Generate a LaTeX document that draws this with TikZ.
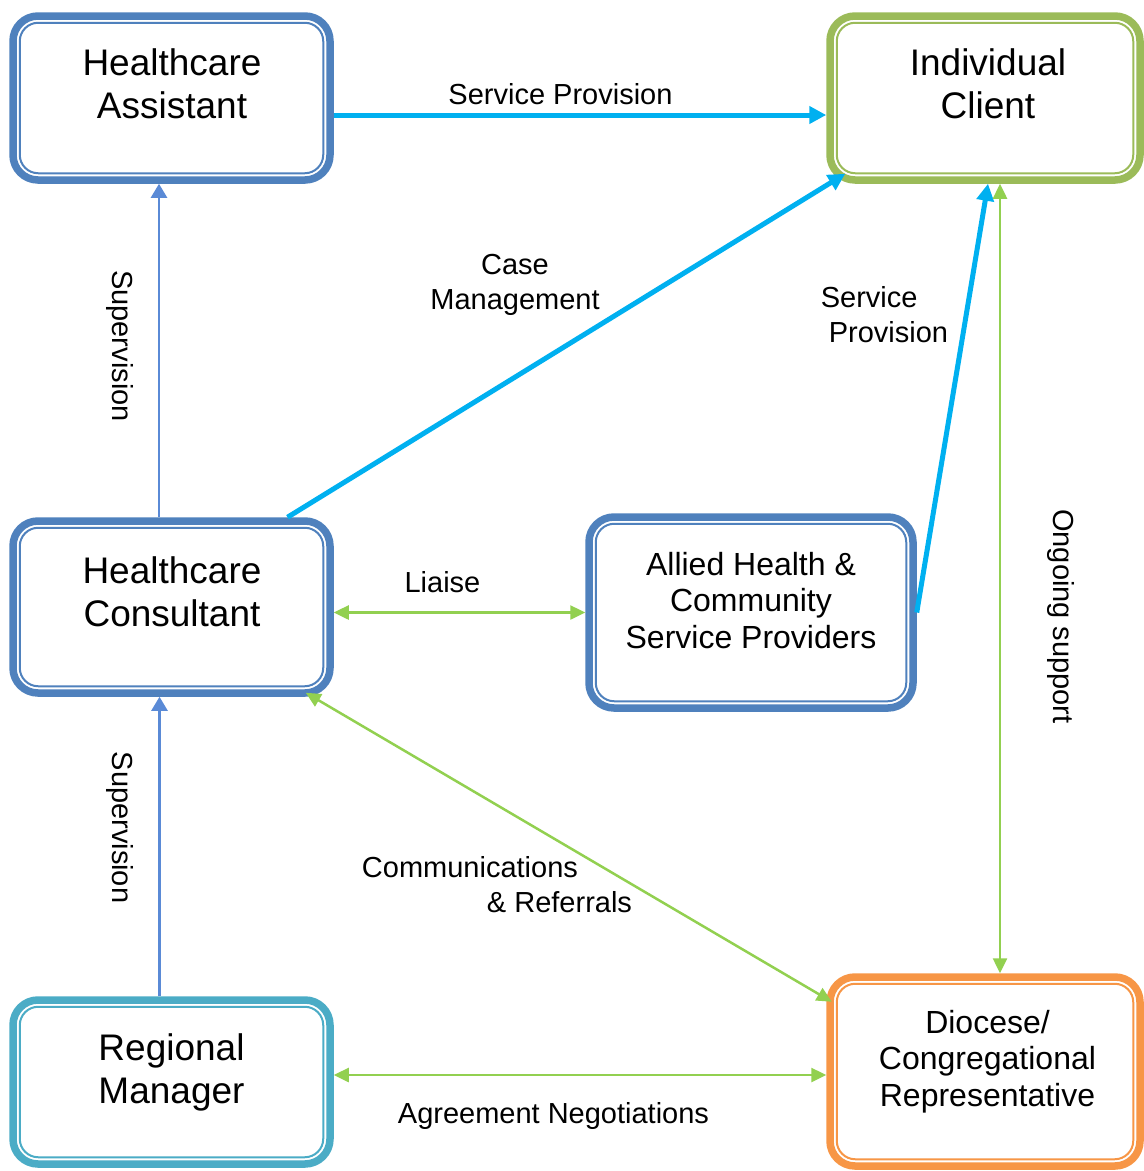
\documentclass[tikz,border=0pt]{standalone}
\usepackage{fontspec}
\setmainfont{Liberation Sans}
\usetikzlibrary{arrows.meta}
\definecolor{rbblue}{HTML}{4F81BD}
\definecolor{rbgreen}{HTML}{9BBB59}
\definecolor{rbteal}{HTML}{4BACC6}
\definecolor{rborange}{HTML}{F79646}
\definecolor{flowcyan}{HTML}{00B0F0}
\definecolor{linkgreen}{HTML}{92D050}
\definecolor{supvblue}{HTML}{5A8AD6}
\tikzset{rolebox/.style={
  draw=#1,
  fill=white,
  line width=7.5pt,
  rounded corners=25pt,
  outer sep=3.75pt,
  inner sep=0pt
}}
\tikzset{roletxt/.style={align=center,inner sep=0pt,font=\fontsize{37}{43}\selectfont}}
\tikzset{midtxt/.style={align=center,inner sep=0pt,font=\fontsize{32}{36.5}\selectfont}}
\tikzset{lbl/.style={inner sep=0pt,font=\fontsize{29}{35}\selectfont}}
\tikzset{flow/.style={draw=flowcyan,line width=5pt,-{Triangle[width=17pt,length=17pt]}}}
\tikzset{link/.style={draw=linkgreen,line width=2.5pt,
  {Triangle[width=14pt,length=15pt]}-{Triangle[width=14pt,length=15pt]}}}
\tikzset{supv/.style={draw=supvblue,line width=2.5pt,-{Triangle[width=16pt,length=14pt]}}}

\begin{document}
\begin{tikzpicture}[x=1pt,y=-1pt]
    \useasboundingbox (0,0) rectangle (1144,1171);

    % Role boxes
    \node[rolebox=rbblue,minimum width=317pt,minimum height=164pt] (asst) at (171.5,98) {};
    \node[rolebox=rbgreen,minimum width=310pt,minimum height=164pt] (client) at (985,98) {};
    \node[rolebox=rbblue,minimum width=317pt,minimum height=172pt] (cons) at (171.5,607) {};
    \node[rolebox=rbblue,minimum width=324pt,minimum height=191pt] (allied) at (751,612.5) {};
    \node[rolebox=rbteal,minimum width=317pt,minimum height=164pt] (region) at (171.5,1082) {};
    \node[rolebox=rborange,minimum width=310pt,minimum height=189pt] (dio) at (985,1071.5) {};

    % Inner frames
    \foreach \n/\c in {asst/rbblue,client/rbgreen,cons/rbblue,allied/rbblue,region/rbteal,dio/rborange}
      \draw[\c,line width=2pt,rounded corners=18.5pt]
        ([shift={(10.5pt,-10.5pt)}]\n.north west) rectangle ([shift={(-10.5pt,10.5pt)}]\n.south east);

    % Box texts
    \node[roletxt] (asst-txt) at (172,84) {Healthcare\\Assistant};
    \node[roletxt] (client-txt) at (988,84) {Individual\\Client};
    \node[roletxt] (cons-txt) at (172,592) {Healthcare\\Consultant};
    \node[midtxt] (allied-txt) at (751,600.5) {Allied Health \&\\Community\\Service Providers};
    \node[roletxt] (region-txt) at (171.5,1072) {Regional\\Manager};
    \node[midtxt] (dio-txt) at (987.5,1061.5) {Diocese/\\Congregational\\Representative};

    % Service flows
    \draw[flow] ([yshift=-17pt]asst.east) -- ([yshift=-17pt]client.west);
    \draw[flow] ([xshift=116pt]cons.north) -- ([shift={(19pt,10pt)}]client.south west);
    \draw[flow] (allied.east) -- ([xshift=3pt]client.south);

    % Supervision
    \draw[supv] ([xshift=-12.5pt]cons.north) -- ([xshift=-12.5pt]asst.south);
    \draw[supv] ([xshift=-12pt]region.north) -- ([xshift=-12pt]cons.south);

    % Two-way links
    \draw[link] ([yshift=-5.5pt]cons.east) -- (allied.west);
    \draw[link] ([shift={(-28pt,4pt)}]cons.south east) -- ([shift={(5.5pt,-28.5pt)}]dio.north west);
    \draw[link] ([yshift=7pt]region.east) -- ([yshift=-3.5pt]dio.west);
    \draw[link] ([xshift=15pt]client.south) -- ([xshift=15pt]dio.north);

    % Labels
    \node[lbl] (sp-top) at (560.5,94.5) {Service Provision};
    \node[lbl,align=center] (case) at (515,285) {Case\\Management};
    \node[lbl,align=left] (sp-right) at (884.5,315) {Service\\\hspace*{8pt}Provision};
    \node[lbl] (liaise) at (442.5,582.5) {Liaise};
    \node[lbl,align=left] (comms) at (497,884.5) {Communications\\\hspace*{125pt}\& Referrals};
    \node[lbl] (agree) at (553.5,1115.5) {Agreement Negotiations};
    \node[lbl,rotate=-90] (sup-up) at (120,346) {Supervision};
    \node[lbl,rotate=-90] (sup-low) at (120,827.5) {Supervision};
    \node[lbl,rotate=-90] (ongoing) at (1061,616.5) {Ongoing support};

  \end{tikzpicture}
\end{document}
